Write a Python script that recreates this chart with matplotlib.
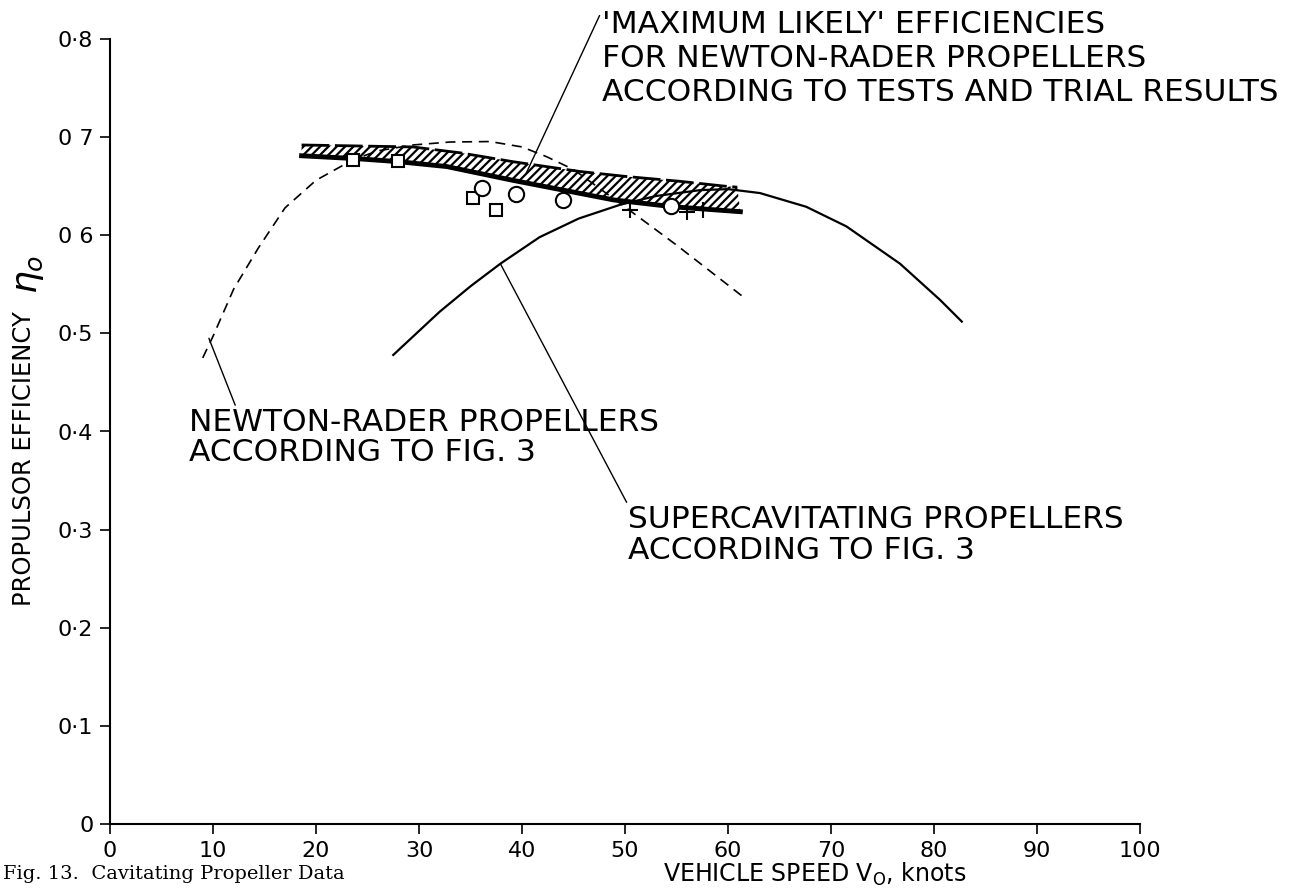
import matplotlib
matplotlib.use("Agg")
import matplotlib.pyplot as plt
import numpy as np

# Newton-Rader propellers according to fig. 3 (dashed)
nr_speed = [9.0, 10.0, 12.0, 14.4, 17.0, 20.0, 23.6, 26.0, 29.4, 33.0, 36.9, 40.0, 42.4,
            45.0, 47.5, 50.5, 55.0, 61.5]
nr_eff = [0.475, 0.497, 0.545, 0.587, 0.628, 0.656, 0.677, 0.686, 0.692, 0.695, 0.6955,
          0.690, 0.680, 0.667, 0.648, 0.625, 0.590, 0.537]

# supercavitating propellers according to fig. 3 (solid)
sc_speed = [27.5, 32.0, 35.0, 37.9, 41.7, 45.5, 49.5, 53.0, 57.3, 60.0, 63.1, 67.6, 71.5,
            76.7, 80.6, 82.7]
sc_eff = [0.478, 0.522, 0.548, 0.571, 0.598, 0.617, 0.631, 0.640, 0.646, 0.647, 0.643,
          0.629, 0.609, 0.571, 0.534, 0.512]

# 'maximum likely' band
band_top_x = [18.6, 24.0, 29.4, 34.0, 39.1, 45.6, 50.0, 55.3, 59.7, 60.9]
band_top_y = [0.692, 0.691, 0.690, 0.684, 0.675, 0.665, 0.660, 0.655, 0.650, 0.649]
band_bot_x = [18.6, 24.0, 28.0, 32.7, 39.1, 44.0, 48.9, 54.7, 61.2]
band_bot_y = [0.681, 0.678, 0.675, 0.670, 0.656, 0.646, 0.636, 0.629, 0.624]

# test / trial points
sq_x = [23.6, 28.0, 35.2, 37.5]
sq_y = [0.677, 0.676, 0.638, 0.626]
circ_x = [36.1, 39.4, 43.95, 54.5]
circ_y = [0.648, 0.642, 0.636, 0.630]
plus_x = [50.5, 56.0, 57.6]
plus_y = [0.626, 0.624, 0.626]

xticks = [0, 10, 20, 30, 40, 50, 60, 70, 80, 90, 100]
yticks = [0, 0.1, 0.2, 0.3, 0.4, 0.5, 0.6, 0.7, 0.8]
ytick_labels = ["0", "0·1", "0·2", "0·3", "0·4", "0·5", "0 6", "0 7", "0·8"]

plt.rcParams['font.family'] = ['DejaVu Sans']
plt.rcParams['hatch.linewidth'] = 1.6

fig = plt.figure(figsize=(12.89, 8.88), dpi=100)
ax = fig.add_axes([110 / 1289, 64 / 888, 1030 / 1289, 785 / 888])

ax.plot(nr_speed, nr_eff, color='black', lw=1.2, dashes=(6, 4))
ax.plot(sc_speed, sc_eff, color='black', lw=1.6)

poly_x = np.concatenate([band_top_x, band_bot_x[::-1]])
poly_y = np.concatenate([band_top_y, band_bot_y[::-1]])
ax.fill(poly_x, poly_y, facecolor='none', edgecolor='black', hatch='////', lw=0)
ax.plot(band_top_x, band_top_y, color='black', lw=2.0, dashes=(10, 2))
ax.plot(band_bot_x, band_bot_y, color='black', lw=3.5)

ax.plot(sq_x, sq_y, 's', ms=9, mfc='white', mec='black', mew=1.5)
ax.plot(circ_x, circ_y, 'o', ms=11, mfc='white', mec='black', mew=1.5)
ax.plot(plus_x, plus_y, '+', ms=11, mec='black', mew=1.5)

fs = 22.5
ax.annotate("'MAXIMUM LIKELY' EFFICIENCIES\nFOR NEWTON-RADER PROPELLERS\nACCORDING TO TESTS AND TRIAL RESULTS",
            xy=(40.4, 0.663), xytext=(47.8, 0.830), ha='left', va='top',
            fontsize=fs, linespacing=1.22, annotation_clip=False,
            arrowprops=dict(arrowstyle='-', lw=1, color='black',
                            shrinkA=0, shrinkB=0, relpos=(0, 1)))
ax.annotate("NEWTON-RADER PROPELLERS\nACCORDING TO FIG. 3",
            xy=(9.6, 0.495), xytext=(7.7, 0.424), ha='left', va='top',
            fontsize=fs, linespacing=1.05,
            arrowprops=dict(arrowstyle='-', lw=1, color='black',
                            shrinkA=0, shrinkB=0, relpos=(0.1, 1)))
ax.annotate("SUPERCAVITATING PROPELLERS\nACCORDING TO FIG. 3",
            xy=(37.9, 0.571), xytext=(50.3, 0.325), ha='left', va='top',
            fontsize=fs, linespacing=1.1,
            arrowprops=dict(arrowstyle='-', lw=1, color='black',
                            shrinkA=0, shrinkB=0, relpos=(0, 1)))

ax.set_xlim(0, 100)
ax.set_ylim(0, 0.8)
ax.set_xticks(xticks)
ax.set_yticks(yticks)
ax.set_yticklabels(ytick_labels)
ax.tick_params(direction='out', length=7, width=1.2, labelsize=16, pad=5)
for s in ['top', 'right']:
    ax.spines[s].set_visible(False)
for s in ['left', 'bottom']:
    ax.spines[s].set_linewidth(1.5)

ax.text(0.684, -0.064, "VEHICLE SPEED V$_\\mathregular{O}$, knots", transform=ax.transAxes,
        fontsize=17, ha='center', va='center')
ax.text(-0.0835, 0.466, "PROPULSOR EFFICIENCY", transform=ax.transAxes, rotation=90,
        fontsize=17.5, ha='center', va='center')
ax.text(-0.079, 0.70, "$\\eta_o$", transform=ax.transAxes, rotation=90,
        fontsize=26, ha='center', va='center')

fig.text(0.002, 0.006, "Fig. 13.  Cavitating Propeller Data", family='DejaVu Serif',
         fontsize=14, ha='left', va='bottom')

fig.savefig("out.png", dpi=100)
